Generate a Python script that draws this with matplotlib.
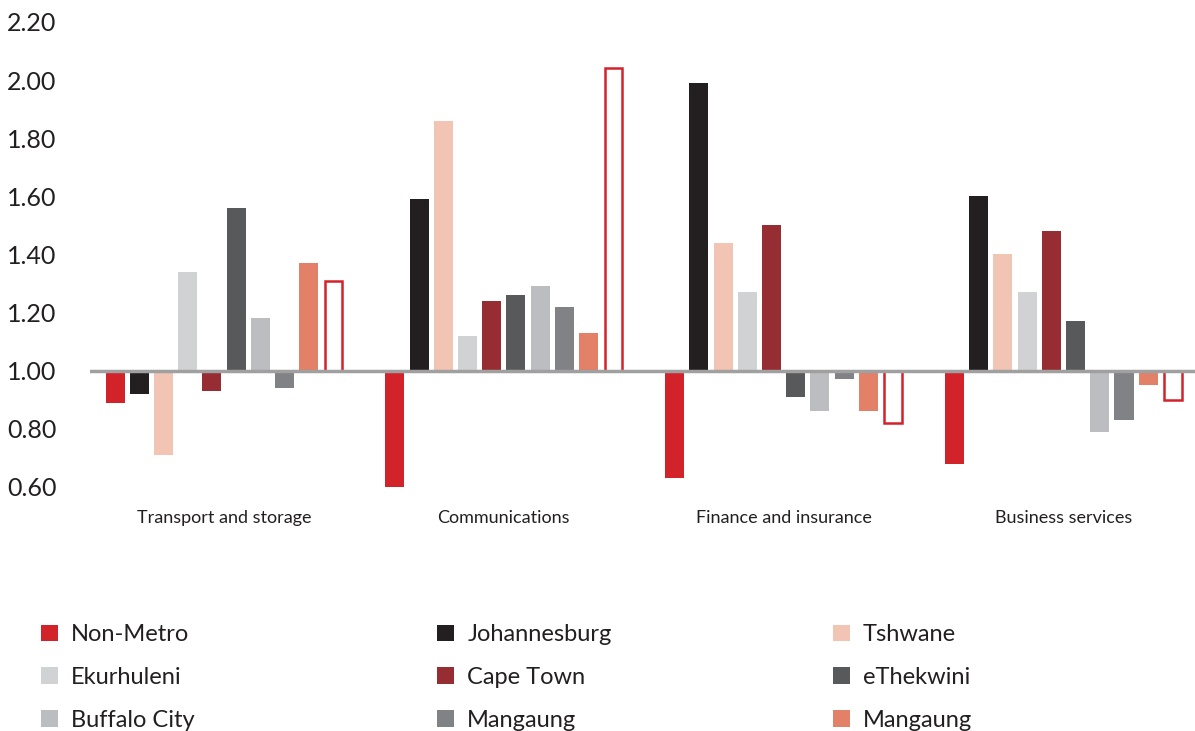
import numpy as np
import matplotlib.pyplot as plt
from matplotlib.patches import Patch

plt.rcParams['font.family'] = ['Lato', 'DejaVu Sans']

# Categories and series
categories = ["Transport and storage", "Communications", "Finance and insurance", "Business services"]
series = ["Non-Metro", "Johannesburg", "Tshwane", "Ekurhuleni", "Cape Town",
          "eThekwini", "Buffalo City", "Mangaung", "Mangaung"]
colors = ["#D2232A", "#231F20", "#F2C4B3", "#D1D2D4", "#962D33",
          "#58595B", "#BCBDC0", "#808285", "#E28068"]

non_metro    = [0.89, 0.60, 0.63, 0.68]
johannesburg = [0.92, 1.59, 1.99, 1.60]
tshwane      = [0.71, 1.86, 1.44, 1.40]
ekurhuleni   = [1.34, 1.12, 1.27, 1.27]
cape_town    = [0.93, 1.24, 1.50, 1.48]
ethekwini    = [1.56, 1.26, 0.91, 1.17]
buffalo_city = [1.18, 1.29, 0.86, 0.79]
mangaung     = [0.94, 1.22, 0.97, 0.83]
mangaung2    = [1.37, 1.13, 0.86, 0.95]
outline      = [1.31, 2.04, 0.82, 0.90]   # red outlined bar, not in legend

values = [non_metro, johannesburg, tshwane, ekurhuleni, cape_town,
          ethekwini, buffalo_city, mangaung, mangaung2]

fig = plt.figure(figsize=(11.95, 7.31), dpi=100)
ax = fig.add_axes([0.075, 0.334, 0.925, 0.636])

x = np.arange(len(categories))
step = 0.0865
width = 0.068
n = len(values) + 1
offsets = (np.arange(n) - (n - 1) / 2) * step

for i, (vals, c) in enumerate(zip(values, colors)):
    v = np.array(vals)
    ax.bar(x + offsets[i], v - 1, width=width, bottom=1, color=c, zorder=2)

v = np.array(outline)
ax.bar(x + offsets[-1] + 0.002, v - 1, width=width - 0.006, bottom=1, facecolor="white",
       edgecolor="#D2232A", linewidth=1.8, zorder=2)

ax.axhline(1.0, color="#A0A0A0", linewidth=2.5, zorder=3)

ax.set_ylim(0.6, 2.2)
ax.set_xlim(-0.48, 3.47)
ticks = np.arange(0.6, 2.21, 0.2)
ax.set_yticks(ticks)
ax.set_yticklabels([f"{t:.2f}" for t in ticks], fontsize=18, color="#231F20")
ax.set_xticks(x)
ax.set_xticklabels(categories, fontsize=13, color="#231F20")
ax.tick_params(axis="both", length=0)
ax.tick_params(axis="x", pad=17)
ax.tick_params(axis="y", pad=24)
for s in ax.spines.values():
    s.set_visible(False)

# legend in three columns, row-major order
col_x = [0.034, 0.366, 0.697]
for col in range(3):
    idx = [col, col + 3, col + 6]
    handles = [Patch(facecolor=colors[i], edgecolor="none") for i in idx]
    labels = [series[i] for i in idx]
    fig.legend(handles, labels, loc="upper left", bbox_to_anchor=(col_x[col], 0.146),
               frameon=False, fontsize=17, handlelength=0.72, handleheight=0.72,
               handletextpad=0.55, labelspacing=0.92, borderaxespad=0, borderpad=0,
               labelcolor="#231F20")

fig.savefig("out.png", dpi=100)
